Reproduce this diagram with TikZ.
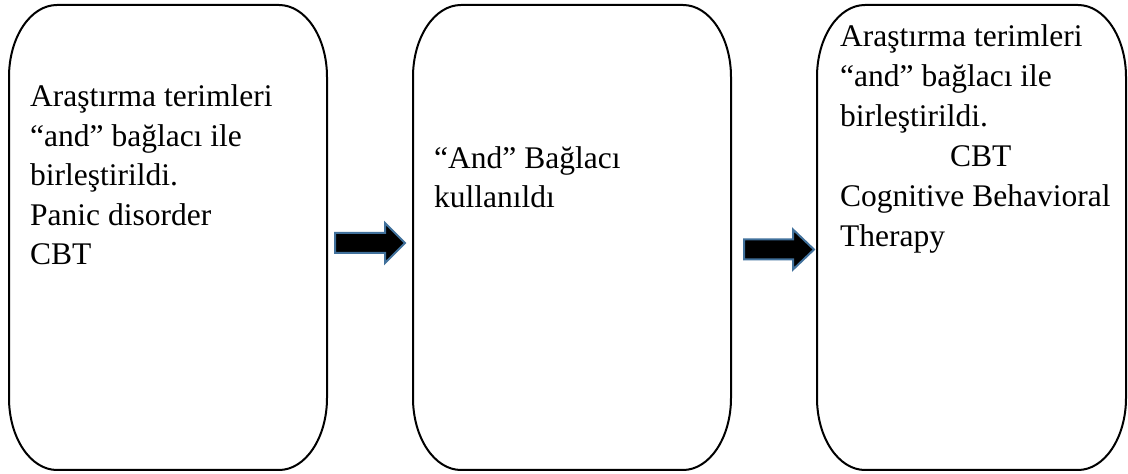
\documentclass[tikz,border=0pt]{standalone}
\usepackage{fontspec}
\setmainfont{Liberation Serif}
\usetikzlibrary{calc}

% rounded box with elliptical corners: #1 = left x, #2 = right x
\newcommand\ovalbox[2]{%
  \draw[boxline] (#1+48,469) -- (#2-48,469)
    arc[start angle=90, end angle=0, x radius=48, y radius=72]
    -- (#2,76)
    arc[start angle=0, end angle=-90, x radius=48, y radius=72]
    -- (#1+48,4)
    arc[start angle=270, end angle=180, x radius=48, y radius=72]
    -- (#1,397)
    arc[start angle=180, end angle=90, x radius=48, y radius=72]
    -- cycle;}

% block arrow: shaft from #1 to #2, head to #3, centre height #4
\newcommand\blockarrow[4]{%
  \draw[blockarr] (#1,#4+10) -- (#2,#4+10) -- (#2,#4+20) -- (#3,#4)
    -- (#2,#4-20) -- (#2,#4-10) -- (#1,#4-10) -- cycle;}

\definecolor{arrowedge}{RGB}{65,113,156}

\begin{document}
\begin{tikzpicture}[x=1pt, y=1pt,
  boxline/.style={line width=2pt, black},
  blockarr/.style={fill=black, draw=arrowedge, line width=2pt, line join=miter},
  boxtext/.style={inner sep=0pt, anchor=base west, align=left,
    font=\fontsize{31.5}{39.5}\selectfont}]
\useasboundingbox (0,0) rectangle (1128,474);
\fill[white] (0,0) rectangle (1128,474);

% three boxes
\ovalbox{9}{327}
\ovalbox{413}{731}
\ovalbox{817}{1126}

% arrows between the boxes
\blockarrow{335}{385}{405}{231}
\blockarrow{744}{793}{814}{224.5}

% box texts (anchored at the baseline of the last line)
\node[boxtext] (t1) at (30,209) {Araştırma terimleri\\“and” bağlacı ile\\birleştirildi.\\Panic disorder\\CBT};
\node[boxtext] (t2) at (434,266) {“And” Bağlacı\\kullanıldı};
\node[boxtext, font=\fontsize{31.5}{40}\selectfont] (t3) at (840,227) {Araştırma terimleri\\“and” bağlacı ile\\birleştirildi.\\\hspace*{110pt}CBT\\Cognitive Behavioral\\Therapy};
\end{tikzpicture}
\end{document}
